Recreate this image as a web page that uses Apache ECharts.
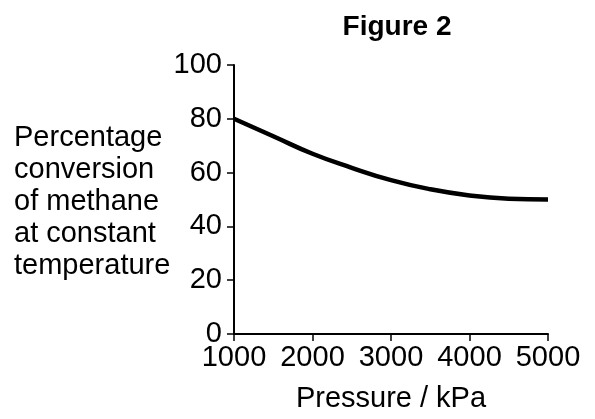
<!DOCTYPE html>
<html>
<head>
<meta charset="utf-8">
<script src="https://cdn.jsdelivr.net/npm/echarts@6/dist/echarts.min.js"></script>
<style>
  html, body { margin: 0; padding: 0; background: #fff; }
  #chart { width: 595px; height: 419px; }
</style>
</head>
<body>
<div id="chart"></div>
<script>
// pressure (kPa) and % conversion
const pressure = [1000, 1500, 2000, 2500, 3000, 3500, 4000, 4500, 5000];
const conversion = [80, 73.5, 67, 61.8, 57.2, 53.8, 51.5, 50.3, 50];
const yLabelLines = ['Percentage', 'conversion', 'of methane', 'at constant', 'temperature'];

const FONT = '"Liberation Sans", Arial, sans-serif';
const FS = 29;

const chart = echarts.init(document.getElementById('chart'));
chart.setOption({
  animation: false,
  backgroundColor: '#fff',
  title: {
    text: 'Figure 2',
    left: 392,
    top: 8,
    textAlign: 'center',
    textStyle: { fontFamily: FONT, fontSize: 28, fontWeight: 'bold', color: '#000' }
  },
  grid: { left: 234, right: 47, top: 65, bottom: 85 },
  xAxis: {
    type: 'value',
    min: 1000,
    max: 5000,
    interval: 1000,
    name: 'Pressure / kPa',
    nameLocation: 'middle',
    nameGap: 50,
    nameTextStyle: { fontFamily: FONT, fontSize: FS, color: '#000' },
    axisLine: { show: true, lineStyle: { color: '#000', width: 2 } },
    axisTick: { show: true, length: 7, lineStyle: { color: '#000', width: 1.5 } },
    axisLabel: { margin: 9, fontFamily: FONT, fontSize: FS, color: '#000', formatter: v => String(v) },
    splitLine: { show: false }
  },
  yAxis: {
    type: 'value',
    min: 0,
    max: 100,
    interval: 20,
    axisLine: { show: true, lineStyle: { color: '#000', width: 2 } },
    axisTick: { show: true, length: 7, lineStyle: { color: '#000', width: 1.5 } },
    axisLabel: { margin: 12, fontFamily: FONT, fontSize: FS, color: '#000' },
    splitLine: { show: false }
  },
  graphic: [{
    type: 'text',
    left: 14,
    top: 122,
    style: {
      text: yLabelLines.join('\n'),
      font: FS + 'px ' + FONT,
      lineHeight: 32,
      fill: '#000',
      textAlign: 'left'
    }
  }],
  series: [{
    type: 'line',
    data: pressure.map((p, i) => [p, conversion[i]]),
    smooth: true,
    showSymbol: false,
    lineStyle: { color: '#000', width: 4.5 }
  }]
});
</script>
</body>
</html>
